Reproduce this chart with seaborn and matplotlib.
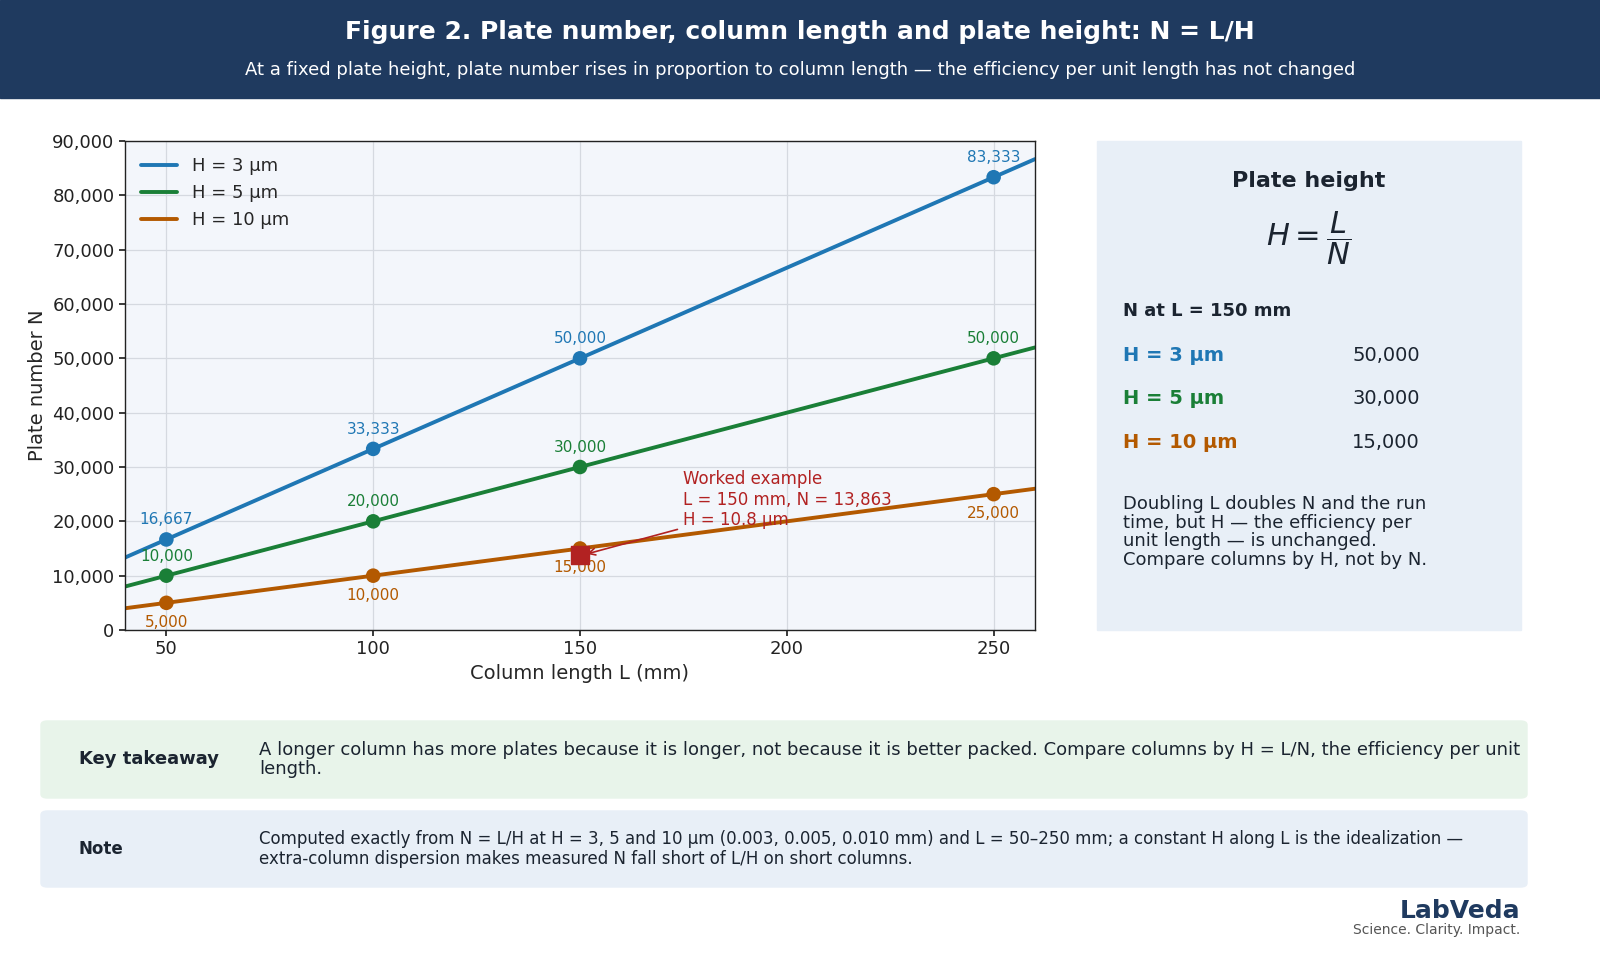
import matplotlib
matplotlib.use("Agg")
import matplotlib.pyplot as plt
import numpy as np
import pandas as pd
import seaborn as sns
from matplotlib.patches import FancyBboxPatch, Rectangle

lengths = [50, 100, 150, 250]
heights_um = [3, 5, 10]
series_colors = ["#1f77b4", "#1a7f37", "#b35900"]
line_x = [40, 260]
example_L = 150
example_N = 13863
example_H = 10.8

sns.set_theme(style="whitegrid")
plt.rcParams["font.family"] = ["DejaVu Sans"]

fig = plt.figure(figsize=(16, 9.6), dpi=100)
W, H_ = 1600, 960


def fx(px):
    return px / W


def fy(py):
    return 1 - py / H_


# header
fig.patches.append(Rectangle((0, fy(98)), 1, 98 / H_, transform=fig.transFigure,
                             color="#1f3a5f", zorder=0))
fig.text(0.5, fy(32), "Figure 2. Plate number, column length and plate height: N = L/H",
         ha="center", va="center", color="white", fontsize=18, fontweight="bold")
fig.text(0.5, fy(70), "At a fixed plate height, plate number rises in proportion to column length \u2014 the efficiency per unit length has not changed",
         ha="center", va="center", color="white", fontsize=13)

ax = fig.add_axes([fx(125), fy(630), fx(1035 - 125), (630 - 141) / H_])
ax.set_facecolor("#f3f6fb")

rows = []
for h in heights_um:
    for L in lengths:
        rows.append({"L": L, "N": L / (h / 1000), "H": f"H = {h} \u00b5m"})
df = pd.DataFrame(rows)
lines = pd.DataFrame([{"L": L, "N": L / (h / 1000), "H": f"H = {h} \u00b5m"}
                      for h in heights_um for L in line_x])
palette = dict(zip([f"H = {h} \u00b5m" for h in heights_um], series_colors))
sns.lineplot(data=lines, x="L", y="N", hue="H", palette=palette, lw=2.8, ax=ax)
sns.scatterplot(data=df, x="L", y="N", hue="H", palette=palette, s=110, ax=ax,
                legend=False, zorder=5, edgecolor="none")

for h, c in zip(heights_um, series_colors):
    for L in lengths:
        n = L / (h / 1000)
        off = -14 if h == 10 else 14
        ax.annotate(f"{n:,.0f}", (L, n), xytext=(0, off), textcoords="offset points",
                    ha="center", va="center", color=c, fontsize=11)

ax.scatter([example_L], [example_N], marker="s", s=150, color="#b22222", zorder=6)
ax.annotate(f"Worked example\nL = {example_L} mm, N = {example_N:,}\nH = {example_H} \u00b5m",
            xy=(example_L + 1, example_N), xytext=(175, 29500), color="#b22222",
            fontsize=12, va="top", ha="left",
            arrowprops=dict(arrowstyle="->", color="#b22222", lw=1.2))

ax.set_xlim(40, 260)
ax.set_ylim(0, 90000)
ax.set_xticks([50, 100, 150, 200, 250])
ax.set_yticks(np.arange(0, 90001, 10000))
ax.yaxis.set_major_formatter(matplotlib.ticker.FuncFormatter(lambda v, p: f"{v:,.0f}"))
ax.tick_params(labelsize=13, colors="#222222", length=4, left=True, bottom=True)
ax.set_xlabel("Column length L (mm)", fontsize=14)
ax.set_ylabel("Plate number N", fontsize=14)
ax.grid(color="#d5d9e0", lw=0.9)
for s in ax.spines.values():
    s.set_color("#222222")
    s.set_linewidth(1)
leg = ax.legend(loc="upper left", frameon=False, fontsize=13, title=None)

# right panel
fig.patches.append(Rectangle((fx(1097), fy(630)), fx(1521 - 1097), (630 - 141) / H_,
                             transform=fig.transFigure, color="#e8eff7", zorder=0))
fig.text(fx(1309), fy(181), "Plate height", ha="center", va="center", fontsize=16,
         fontweight="bold", color="#1b2430")
fig.text(fx(1309), fy(238), r"$H = \dfrac{L}{N}$", ha="center", va="center", fontsize=22,
         color="#1b2430")
fig.text(fx(1123), fy(311), "N at L = 150 mm", ha="left", va="center", fontsize=13,
         fontweight="bold", color="#1b2430")
for i, (h, c) in enumerate(zip(heights_um, series_colors)):
    y = 355 + 44 * i
    fig.text(fx(1123), fy(y), f"H = {h} \u00b5m", ha="left", va="center", fontsize=14,
             fontweight="bold", color=c)
    fig.text(fx(1352), fy(y), f"{example_L / (h / 1000):,.0f}", ha="left", va="center",
             fontsize=14, color="#1b2430")
fig.text(fx(1123), fy(532), "Doubling L doubles N and the run\ntime, but H \u2014 the efficiency per\nunit length \u2014 is unchanged.\nCompare columns by H, not by N.",
         ha="left", va="center", fontsize=13, color="#1b2430", linespacing=1.05)

# bottom boxes
for (y0, y1, col, title, body, bfs) in [
    (721, 798, "#e8f4ea", "Key takeaway",
     "A longer column has more plates because it is longer, not because it is better packed. Compare columns by H = L/N, the efficiency per unit\nlength.", 13),
    (811, 887, "#e8eff7", "Note",
     "Computed exactly from N = L/H at H = 3, 5 and 10 \u00b5m (0.003, 0.005, 0.010 mm) and L = 50\u2013250 mm; a constant H along L is the idealization \u2014\nextra-column dispersion makes measured N fall short of L/H on short columns.", 12),
]:
    fig.patches.append(FancyBboxPatch((fx(41), fy(y1)), fx(1527 - 41), (y1 - y0) / H_,
                                      boxstyle="round,pad=0,rounding_size=0.004",
                                      transform=fig.transFigure, color=col, zorder=0))
    fig.text(fx(79), fy((y0 + y1) / 2), title, ha="left", va="center", fontsize=13 if bfs == 13 else 12,
             fontweight="bold", color="#1b2430")
    fig.text(fx(259), fy((y0 + y1) / 2), body, ha="left", va="center", fontsize=bfs,
             color="#1b2430", linespacing=1.1)

fig.text(fx(1520), fy(911), "LabVeda", ha="right", va="center", fontsize=18,
         fontweight="bold", color="#1f3a5f")
fig.text(fx(1520), fy(930), "Science. Clarity. Impact.", ha="right", va="center",
         fontsize=10, color="#555555")

fig.savefig("out.png", dpi=100)
